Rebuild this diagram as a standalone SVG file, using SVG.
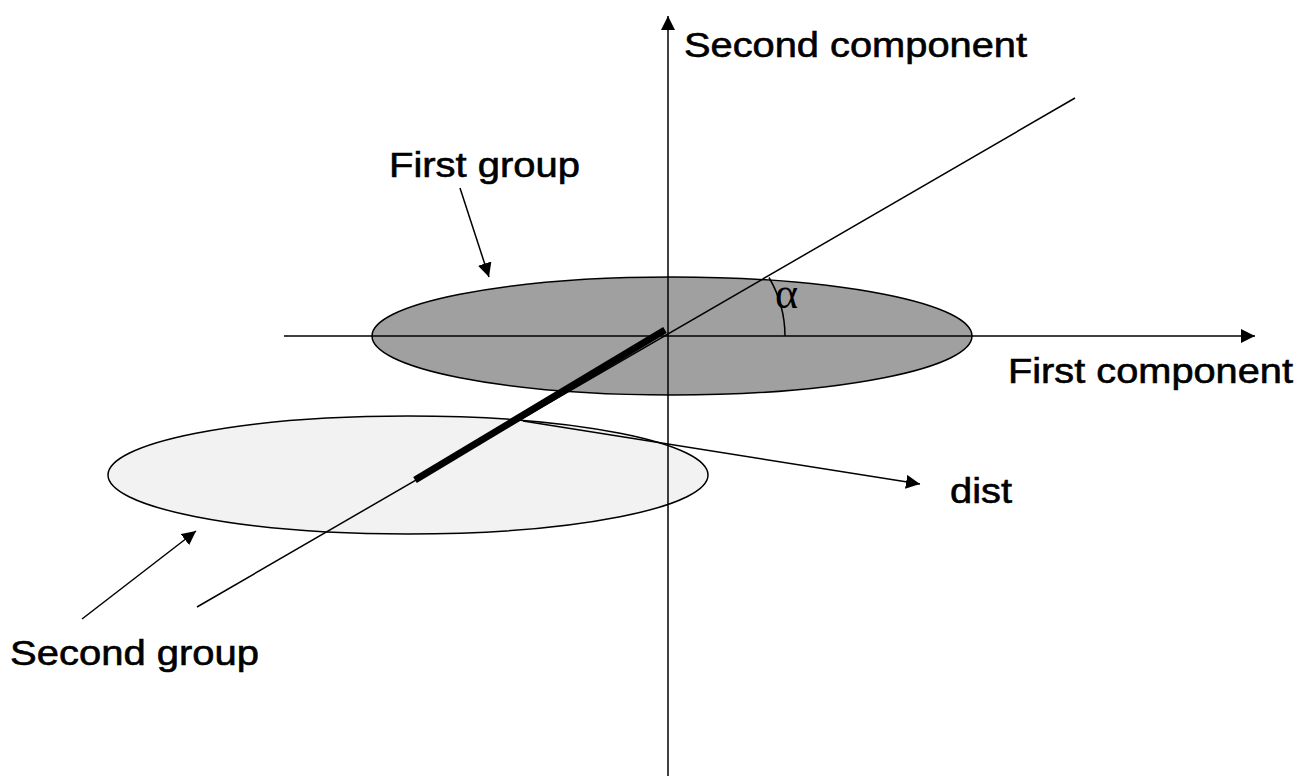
<svg xmlns="http://www.w3.org/2000/svg" width="1297" height="776" viewBox="0 0 1297 776">
<style>
.ln{stroke:#000;stroke-width:1.5;fill:none}
.lbl{font-family:"Liberation Sans",Arial,sans-serif;font-size:35px;fill:#000;stroke:#000;stroke-width:0.6}
</style>
<defs>
<marker id="ah" viewBox="0 0 10 10" refX="10" refY="5" markerWidth="14" markerHeight="14" markerUnits="userSpaceOnUse" orient="auto">
<path d="M0,0 L10,5 L0,10 z" fill="#000"/>
</marker>
</defs>
<rect width="1297" height="776" fill="#fff"/>
<g id="second-group-ellipse">
<ellipse cx="408" cy="475" rx="300" ry="59" fill="#f2f2f2" stroke="#000" stroke-width="1.5"/>
</g>
<g id="first-group-ellipse">
<ellipse cx="672" cy="336" rx="300" ry="59" fill="#a0a0a0" stroke="#000" stroke-width="1.5"/>
</g>
<g id="connectors">
<line class="ln" x1="668" y1="776" x2="668" y2="16" marker-end="url(#ah)"/>
<line class="ln" x1="284" y1="336" x2="1255" y2="336" marker-end="url(#ah)"/>
<line class="ln" x1="197" y1="607" x2="1075" y2="98"/>
<line x1="415" y1="480" x2="665" y2="330" stroke="#000" stroke-width="7"/>
<path class="ln" d="M769,277.5 A117,117 0 0 1 785,336"/>
<line class="ln" x1="523" y1="421" x2="920" y2="484" marker-end="url(#ah)"/>
<line class="ln" x1="460" y1="188" x2="489" y2="277" marker-end="url(#ah)"/>
<line class="ln" x1="82" y1="619" x2="196" y2="531" marker-end="url(#ah)"/>
</g>
<g id="labels">
<text class="lbl" x="684" y="57" textLength="343" lengthAdjust="spacingAndGlyphs">Second component</text>
<text class="lbl" x="389" y="177" textLength="191" lengthAdjust="spacingAndGlyphs">First group</text>
<text class="lbl" x="1008" y="383" textLength="285" lengthAdjust="spacingAndGlyphs">First component</text>
<text class="lbl" x="950" y="503" textLength="62" lengthAdjust="spacingAndGlyphs">dist</text>
<text class="lbl" x="10" y="665" textLength="249" lengthAdjust="spacingAndGlyphs">Second group</text>
<text x="775" y="308" style="font-family:'Liberation Serif','Times New Roman',serif;font-size:44px;fill:#000">α</text>
</g>
</svg>
